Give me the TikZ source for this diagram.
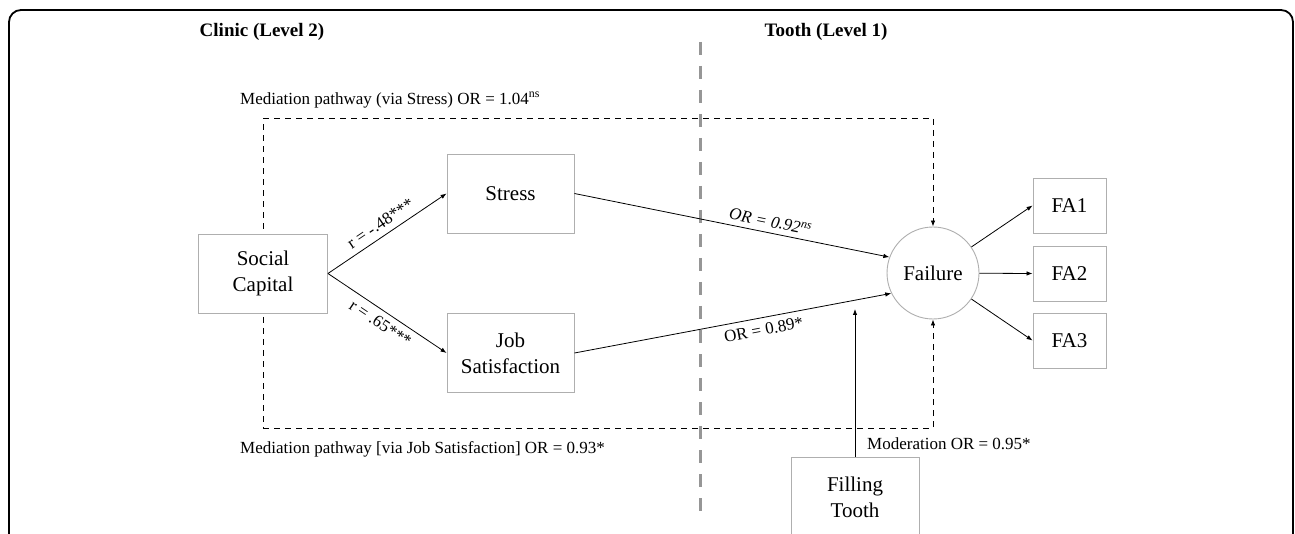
\documentclass[tikz,border=0pt]{standalone}
\usepackage{fontspec}
\setmainfont{Liberation Serif}
\usetikzlibrary{arrows.meta}
\definecolor{boxgray}{RGB}{175,175,175}
\definecolor{midgray}{RGB}{150,150,150}
\begin{document}
\begin{tikzpicture}[x=1pt,y=-1pt,
  box/.style={draw=boxgray, line width=0.9pt, fill=white, minimum height=79pt,
    align=center, inner sep=0pt, font=\fontsize{21}{26}\selectfont},
  fabox/.style={draw=boxgray, line width=0.9pt, fill=white, minimum width=73pt,
    minimum height=55pt, inner sep=0pt, font=\fontsize{21}{26}\selectfont},
  lbl/.style={font=\fontsize{17}{20}\selectfont, inner sep=2pt},
  head/.style={font=\fontsize{19}{22}\selectfont\bfseries, inner sep=0pt},
  conn/.style={line width=0.8pt, -{Latex[length=6pt,width=4.5pt]}},
  medline/.style={line width=0.8pt, dash pattern=on 6pt off 5pt},
  medarrow/.style={line width=0.8pt, dash pattern=on 6pt off 5pt, -{Latex[length=6pt,width=4.5pt]}},
  levelline/.style={draw=midgray, line width=3pt, dash pattern=on 13pt off 11pt}
]
\useasboundingbox (0,0) rectangle (1295,534);

% outer frame (cut at bottom)
\draw[line width=1.8pt, rounded corners=12pt] (9,600) -- (9,10) -- (1293,10) -- (1293,600);

% headers
\node[head] (clinic) at (262,32) {Clinic (Level 2)};
\node[head] (tooth) at (826,32) {Tooth (Level 1)};

% level separator
\coordinate (sepTop) at (700,42);
\coordinate (sepBot) at (700,522);
\draw[levelline] (sepTop) -- (sepBot);

% mediation labels
\node[lbl, anchor=west, inner sep=0pt] (medS) at (240,100) {Mediation pathway (via Stress) OR = 1.04\textsuperscript{ns}};
\node[lbl, anchor=west, inner sep=0pt] (medJ) at (240,449) {Mediation pathway [via Job Satisfaction] OR = 0.93*};

% outcome node
\node[draw=boxgray, fill=white, line width=0.9pt, circle, minimum size=92pt, inner sep=0pt, font=\fontsize{21}{26}\selectfont] (fail) at (933,273) {Failure};

% dashed mediation frame
\coordinate (tl) at (263,118);
\coordinate (bl) at (263,428);
\coordinate (lm) at (263,273);
\draw[medline] (lm) -- (tl);
\draw[medarrow] (tl) -| (fail.north);
\draw[medline] (lm) -- (bl);
\draw[medarrow] (bl) -| (fail.south);

\node[box, minimum width=129pt] (sc) at (263,273.5) {Social\\Capital};
\node[box, minimum width=127pt] (stress) at (510.5,193.5) {Stress};
\node[box, minimum width=127pt] (job) at (510.5,353) {Job\\Satisfaction};
\node[box, minimum width=128pt, minimum height=80pt] (fill) at (855,497) {Filling\\Tooth};

\node[fabox] (fa1) at (1069.5,205.5) {FA1};
\node[fabox] (fa2) at (1069.5,273.5) {FA2};
\node[fabox] (fa3) at (1069.5,340.5) {FA3};

% connectors
\draw[conn] (sc.east) -- node[lbl, sloped, above, pos=0.5, yshift=4pt] (lr1) {r = -.48***} (stress.west);
\draw[conn] (sc.east) -- node[lbl, sloped, below, pos=0.5, yshift=-4pt] (lr2) {r = .65***} (job.west);
\draw[conn] (stress.east) -- node[lbl, sloped, above, pos=0.615, yshift=3pt] (lor1) {\textit{OR = 0.92\textsuperscript{ns}}} (fail.160);
\draw[conn] (job.east) -- node[lbl, sloped, below, pos=0.59, yshift=-4pt] (lor2) {OR = 0.89*} (fail.206);

\draw[conn] (fail) -- (fa1.west);
\draw[conn] (fail) -- (fa2.west);
\draw[conn] (fail) -- (fa3.west);

% moderation
\coordinate (modEnd) at (855,309);
\draw[conn] (fill.north) -- (modEnd);
\node[lbl, anchor=west, inner sep=0pt] (modlbl) at (867,444) {Moderation OR = 0.95*};
\end{tikzpicture}
\end{document}
